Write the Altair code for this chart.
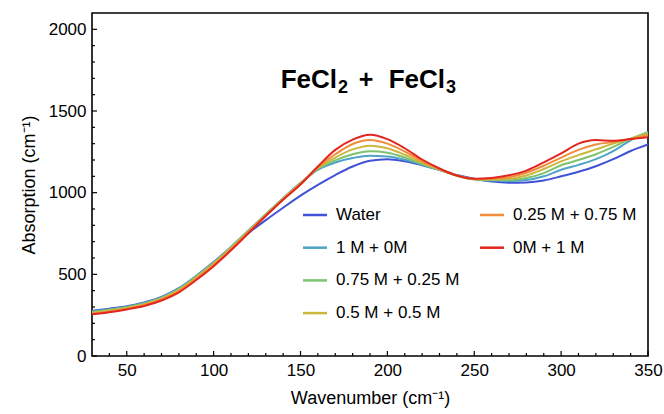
import altair as alt
import pandas as pd

# ---- data ----
wavenumber = [30, 40, 50, 60, 70, 80, 90, 100, 110, 120, 130, 140, 150, 160, 170, 180, 190,
              200, 210, 220, 230, 240, 250, 260, 270, 280, 290, 300, 310, 320, 330, 340, 350]

water = [276, 290, 305, 328, 362, 415, 490, 575, 665, 752, 832, 908, 982, 1048, 1108, 1160, 1195,
         1205, 1192, 1168, 1140, 1108, 1085, 1068, 1061, 1063, 1075, 1100, 1128, 1162, 1205, 1255, 1295]
m1_0 = [272, 286, 301, 325, 360, 414, 490, 574, 668, 768, 868, 966, 1060, 1140, 1185, 1212, 1226,
        1222, 1202, 1170, 1138, 1105, 1082, 1074, 1071, 1077, 1100, 1140, 1170, 1205, 1255, 1320, 1372]
m075_025 = [268, 282, 298, 321, 356, 410, 486, 570, 665, 766, 866, 964, 1058, 1145, 1198, 1235, 1253,
            1245, 1215, 1175, 1140, 1104, 1082, 1077, 1077, 1090, 1120, 1168, 1200, 1235, 1280, 1330, 1368]
m05_05 = [264, 278, 294, 317, 352, 405, 481, 566, 661, 763, 864, 962, 1056, 1150, 1215, 1265, 1288,
          1272, 1232, 1182, 1142, 1104, 1082, 1080, 1085, 1105, 1145, 1192, 1230, 1265, 1300, 1330, 1362]
m025_075 = [260, 273, 290, 312, 347, 398, 474, 559, 655, 759, 861, 960, 1053, 1155, 1235, 1298, 1322,
            1300, 1252, 1192, 1145, 1105, 1083, 1085, 1095, 1122, 1165, 1215, 1262, 1295, 1310, 1328, 1352]
m0_1 = [255, 268, 285, 306, 340, 390, 465, 550, 647, 752, 857, 957, 1050, 1160, 1262, 1325, 1355,
        1328, 1272, 1203, 1148, 1105, 1085, 1090, 1106, 1135, 1185, 1240, 1300, 1322, 1318, 1328, 1340]

series_names = ["Water", "1 M + 0M", "0.75 M + 0.25 M", "0.5 M + 0.5 M", "0.25 M + 0.75 M", "0M + 1 M"]
series_values = [water, m1_0, m075_025, m05_05, m025_075, m0_1]
series_colors = ["#4152d6", "#4fa3c9", "#7dc36e", "#c9b83c", "#f08c3a", "#e2261d"]

x_major = [50, 100, 150, 200, 250, 300, 350]
x_minor = [40, 60, 70, 80, 90, 110, 120, 130, 140, 160, 170, 180, 190, 210, 220, 230, 240,
           260, 270, 280, 290, 310, 320, 330, 340]
y_major = [0, 500, 1000, 1500, 2000]
y_minor = [100, 200, 300, 400, 600, 700, 800, 900, 1100, 1200, 1300, 1400, 1600, 1700, 1800, 1900]

# title pieces: (text, is_subscript)
title_pieces = [("FeCl", False), ("2", True), ("+", False), ("FeCl", False), ("3", True)]

# ---- layout ----
W, H = 556, 343
FONT = "Liberation Sans"

rows = []
for order, (name, vals) in enumerate(zip(series_names, series_values)):
    for xv, yv in zip(wavenumber, vals):
        rows.append({"wavenumber": xv, "absorption": yv, "series": name, "order": order})
df = pd.DataFrame(rows)

xscale = alt.Scale(domain=[30, 350], nice=False, zero=False)
yscale = alt.Scale(domain=[0, 2100], nice=False)
cscale = alt.Scale(domain=series_names, range=series_colors)

x_axis = alt.Axis(values=x_major, format="d", title="Wavenumber (cm⁻¹)", ticks=False, domain=False,
                  grid=False, labelFontSize=17, labelFont=FONT, labelColor="black",
                  labelPadding=6, titleFontSize=18, titleFont=FONT, titleFontWeight="normal",
                  titleColor="black", titlePadding=11, labelFlush=False)
y_axis = alt.Axis(values=y_major, format="d", title="Absorption (cm⁻¹)", ticks=False, domain=False,
                  grid=False, labelFontSize=17, labelFont=FONT, labelColor="black",
                  labelPadding=6, titleFontSize=18, titleFont=FONT, titleFontWeight="normal",
                  titleColor="black", titlePadding=10, labelFlush=False)

lines = alt.Chart(df).mark_line(strokeWidth=2, interpolate="monotone", clip=True).encode(
    x=alt.X("wavenumber:Q", scale=xscale, axis=x_axis),
    y=alt.Y("absorption:Q", scale=yscale, axis=y_axis),
    color=alt.Color("series:N", scale=cscale, legend=None),
    detail="series:N",
    order="order:Q",
)

# inward ticks on the frame
def xticks(vals, length):
    return alt.Chart(pd.DataFrame({"wavenumber": vals})).mark_rule(color="black", strokeWidth=1.2).encode(
        x=alt.X("wavenumber:Q", scale=xscale, axis=x_axis),
        y=alt.value(H), y2=alt.value(H - length))

def yticks(vals, length):
    return alt.Chart(pd.DataFrame({"absorption": vals})).mark_rule(color="black", strokeWidth=1.2).encode(
        y=alt.Y("absorption:Q", scale=yscale, axis=y_axis),
        x=alt.value(0), x2=alt.value(length))

# manual legend, two columns filled column-wise
leg_rows = []
for i, name in enumerate(series_names):
    c, r = (0, i) if i < 4 else (1, i - 4)
    sx = 211 + c * 177
    sy = 202 + r * 32.7
    leg_rows.append({"series": name, "sx": sx, "sx2": sx + 24, "tx": sx + 33, "sy": sy})
leg = pd.DataFrame(leg_rows)

leg_lines = alt.Chart(leg).mark_rule(strokeWidth=2.5).encode(
    x=alt.X("sx:Q", scale=None), x2="sx2:Q", y=alt.Y("sy:Q", scale=None),
    color=alt.Color("series:N", scale=cscale, legend=None))
leg_text = alt.Chart(leg).mark_text(align="left", baseline="middle", fontSize=17, font=FONT,
                                    color="black").encode(
    x=alt.X("tx:Q", scale=None), y=alt.Y("sy:Q", scale=None), text="series:N")

# title built from pieces so that subscripts look like the original
piece_layout = [  # (x anchor, align, baseline y, font size)
    (245, "right", 74.5, 26),
    (246, "left", 79.5, 18),
    (274, "center", 74.5, 25),
    (353, "right", 74.5, 26),
    (354, "left", 79.5, 18),
]
title_layers = []
for (txt, sub), (px, al, py, fs) in zip(title_pieces, piece_layout):
    title_layers.append(
        alt.Chart(pd.DataFrame({"t": [txt]})).mark_text(
            align=al, baseline="alphabetic", fontSize=fs, fontWeight="bold", font=FONT, color="black"
        ).encode(x=alt.value(px), y=alt.value(py), text="t:N")
    )

chart = alt.layer(
    lines, xticks(x_major, 5), xticks(x_minor, 3), yticks(y_major, 5), yticks(y_minor, 3),
    leg_lines, leg_text, *title_layers
).properties(
    width=W, height=H,
    background="white",
    autosize=alt.AutoSizeParams(type="none"),
    padding={"left": 92, "top": 13, "right": 16, "bottom": 58},
).configure_view(stroke="black", strokeWidth=1.6)

chart.save("out.html", embed_options={"renderer": "svg", "actions": False})
